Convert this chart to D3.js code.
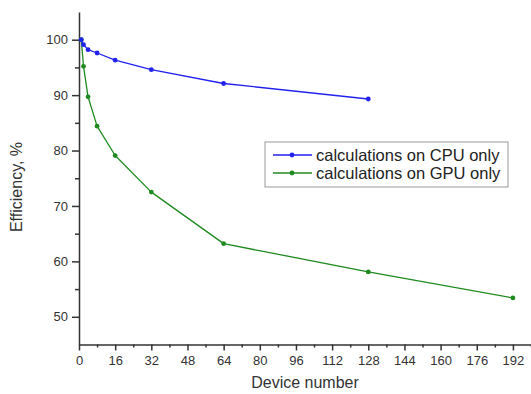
<!DOCTYPE html>
<html><head><meta charset="utf-8">
<script src="https://cdn.jsdelivr.net/npm/d3@7"></script>
<style>body{margin:0;background:#fff}svg{display:block}</style>
</head><body>
<script>
const cpuX = [1, 2, 4, 8, 16, 32, 64, 128];
const cpuY = [100, 99.1, 98.2, 97.6, 96.3, 94.6, 92.1, 89.3];
const gpuX = [1, 2, 4, 8, 16, 32, 64, 128, 192];
const gpuY = [100, 95.2, 89.7, 84.4, 79.1, 72.5, 63.2, 58.1, 53.4];
const xTicks = [0, 16, 32, 48, 64, 80, 96, 112, 128, 144, 160, 176, 192];
const xMinor = [8, 24, 40, 56, 72, 88, 104, 120, 136, 152, 168, 184, 200];
const yTicks = [50, 60, 70, 80, 90, 100];
const yMinor = [55, 65, 75, 85, 95];
const seriesNames = ["calculations on CPU only", "calculations on GPU only"];
const colors = ["#2222ee", "#1f8a1f"];

const W = 531, H = 394;
const svg = d3.select("body").append("svg").attr("width", W).attr("height", H);
const x = d3.scaleLinear().domain([0, 200]).range([79, 531]);
const y = d3.scaleLinear().domain([45, 105]).range([344.5, 12]);
const axisColor = "#333";
const font = "Liberation Sans, Arial, sans-serif";

const gx = svg.append("g").attr("transform", `translate(0,${y(45)})`);
gx.call(d3.axisBottom(x).tickValues(xMinor).tickSize(3).tickFormat("")).select(".domain").remove();
gx.append("g").call(d3.axisBottom(x).tickValues(xTicks).tickSize(6).tickSizeOuter(0).tickPadding(5).tickFormat(d3.format("d")));
const gy = svg.append("g").attr("transform", `translate(${x(0)},0)`);
gy.call(d3.axisLeft(y).tickValues(yMinor).tickSize(4).tickFormat("")).select(".domain").remove();
gy.append("g").call(d3.axisLeft(y).tickValues(yTicks).tickSize(7).tickSizeOuter(0).tickPadding(4).tickFormat(d3.format("d")));
svg.selectAll(".domain, .tick line").attr("stroke", axisColor).attr("stroke-width", 1.5);
svg.selectAll(".tick text").attr("font-family", font).attr("font-size", 13).attr("fill", "#333");

svg.append("text").attr("x", 305).attr("y", 388).attr("text-anchor", "middle")
  .attr("font-family", font).attr("font-size", 16).attr("fill", "#333").text("Device number");
svg.append("text").attr("transform", `translate(22,187) rotate(-90)`).attr("text-anchor", "middle")
  .attr("font-family", font).attr("font-size", 16).attr("fill", "#333").text("Efficiency, %");

const line = d3.line().x(d => x(d[0])).y(d => y(d[1]));
const series = [d3.zip(cpuX, cpuY), d3.zip(gpuX, gpuY)];
[1, 0].forEach(i => {
  svg.append("path").datum(series[i]).attr("d", line).attr("fill", "none")
    .attr("stroke", colors[i]).attr("stroke-width", 1.3).attr("stroke-linejoin", "round");
  svg.selectAll(null).data(series[i]).enter().append("circle")
    .attr("cx", d => x(d[0])).attr("cy", d => y(d[1])).attr("r", 2.4).attr("fill", colors[i]);
});

const lg = svg.append("g");
lg.append("rect").attr("x", 265).attr("y", 142).attr("width", 243).attr("height", 45)
  .attr("fill", "#fff").attr("stroke", "#999").attr("stroke-width", 1);
seriesNames.forEach((n, i) => {
  const yy = 155 + i * 18;
  lg.append("line").attr("x1", 273).attr("x2", 312).attr("y1", yy).attr("y2", yy)
    .attr("stroke", colors[i]).attr("stroke-width", 1.3);
  lg.append("circle").attr("cx", 292).attr("cy", yy).attr("r", 2.4).attr("fill", colors[i]);
  lg.append("text").attr("x", 316).attr("y", yy + 5.5).attr("font-family", font).attr("font-size", 16.5)
    .attr("fill", "#222").text(n);
});
</script>
</body></html>
